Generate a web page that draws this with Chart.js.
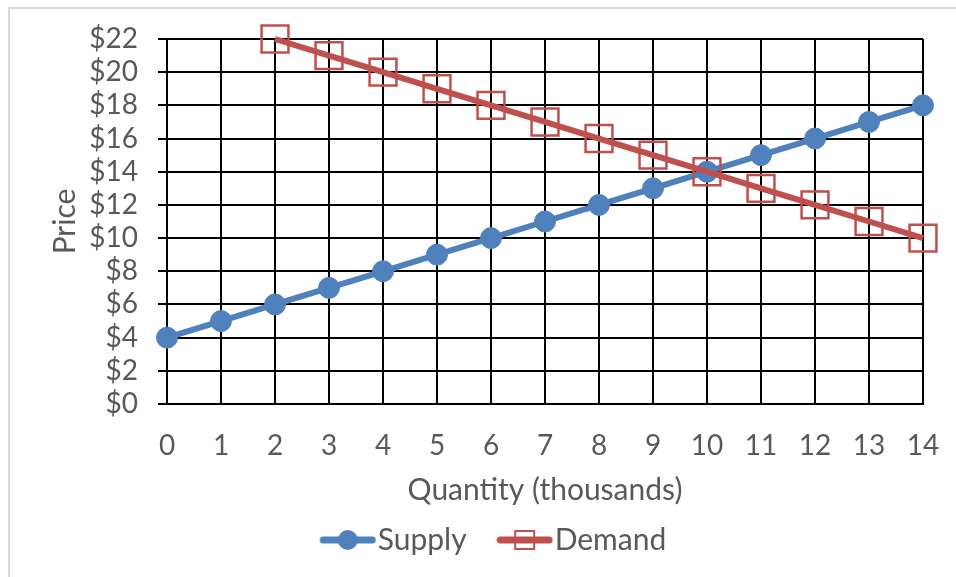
<!DOCTYPE html>
<html>
<head>
<meta charset="utf-8">
<script src="https://cdn.jsdelivr.net/npm/chart.js@4.4.1/dist/chart.umd.min.js"></script>
<style>
    html, body { margin: 0; padding: 0; background: #fff; }
    #wrap { position: relative; width: 956px; height: 577px; overflow: hidden; }
    #frame { position: absolute; left: 8px; top: 7px; width: 1000px; height: 1000px;
             border-left: 2px solid #d9d9d9; border-top: 2px solid #d9d9d9; }
    canvas { position: absolute; left: 0; top: 0; }
</style>
</head>
<body>
<div id="wrap">
    <div id="frame"></div>
    <canvas id="chart" width="956" height="577"></canvas>
</div>
<script>
// quantity in thousands, price in dollars
const quantities = ['0', '1', '2', '3', '4', '5', '6', '7', '8', '9', '10', '11', '12', '13', '14'];
const supply = [4, 5, 6, 7, 8, 9, 10, 11, 12, 13, 14, 15, 16, 17, 18];
const demand = [null, null, 22, 21, 20, 19, 18, 17, 16, 15, 14, 13, 12, 11, 10];
const seriesNames = ['Supply', 'Demand'];

const blue = '#4f81bd';
const red = '#c0504d';
const textColor = '#595959';
const fontFamily = 'Lato, "Open Sans", sans-serif';
const tickFont = { family: fontFamily, size: 28 };
const labelFont = { family: fontFamily, size: 30 };

// legend sample: a short line with the marker in the middle
function legendIcon(color, marker) {
    const c = document.createElement('canvas');
    c.width = 90;
    c.height = 30;
    const g = c.getContext('2d');
    g.strokeStyle = color;
    g.lineWidth = 7;
    g.lineCap = 'round';
    g.beginPath();
    g.moveTo(37, 15);
    g.lineTo(86, 15);
    g.stroke();
    if (marker === 'circle') {
        g.fillStyle = color;
        g.beginPath();
        g.arc(61.5, 15, 10, 0, Math.PI * 2);
        g.fill();
    } else {
        g.lineWidth = 2;
        g.strokeRect(52, 6, 19, 18);
    }
    return c;
}

const icons = [legendIcon(blue, 'circle'), legendIcon(red, 'rect')];

const ctx = document.getElementById('chart');
new Chart(ctx, {
    type: 'line',
    data: {
        labels: quantities,
        datasets: [{
            label: seriesNames[0],
            data: supply,
            borderColor: blue,
            backgroundColor: blue,
            borderWidth: 6,
            pointStyle: 'circle',
            pointRadius: 10.5,
            pointBorderWidth: 1,
            pointBackgroundColor: blue,
            pointBorderColor: blue,
            tension: 0,
            clip: false,
            order: 1
        }, {
            label: seriesNames[1],
            data: demand,
            borderColor: red,
            backgroundColor: 'transparent',
            borderWidth: 6,
            pointStyle: 'rect',
            pointRadius: 19,
            pointBorderWidth: 2.5,
            pointBackgroundColor: 'transparent',
            pointBorderColor: red,
            tension: 0,
            clip: false,
            order: 0
        }]
    },
    options: {
        responsive: false,
        animation: false,
        events: [],
        layout: { padding: { left: 43, right: 33, top: 39, bottom: 12 } },
        plugins: {
            tooltip: { enabled: false },
            legend: {
                position: 'bottom',
                labels: {
                    usePointStyle: true,
                    pointStyleWidth: 63,
                    padding: 10,
                    color: textColor,
                    font: labelFont,
                    generateLabels: (chart) => chart.data.datasets.map((ds, i) => ({
                        text: ds.label,
                        pointStyle: icons[i],
                        fillStyle: ds.borderColor,
                        strokeStyle: ds.borderColor,
                        lineWidth: 0,
                        fontColor: textColor,
                        hidden: false,
                        datasetIndex: i
                    }))
                }
            }
        },
        scales: {
            x: {
                offset: false,
                afterFit: (s) => { s.height = 111; },
                grid: { color: '#000', lineWidth: 2, drawTicks: true, tickLength: 18, tickColor: 'rgba(0,0,0,0)' },
                border: { color: '#000', width: 2 },
                ticks: {
                    color: textColor,
                    font: tickFont,
                    padding: 7,
                    autoSkip: false,
                    maxRotation: 0
                },
                title: {
                    display: true,
                    text: 'Quantity (thousands)',
                    color: textColor,
                    font: labelFont,
                    padding: { top: 0, bottom: 7 }
                }
            },
            y: {
                min: 0,
                max: 22,
                afterFit: (s) => { s.width = 167 - 43; },
                grid: { color: '#000', lineWidth: 2, drawTicks: true, tickLength: 9 },
                border: { color: '#000', width: 2 },
                ticks: {
                    stepSize: 2,
                    color: textColor,
                    font: tickFont,
                    padding: 20,
                    autoSkip: false,
                    callback: (v) => '$' + v
                },
                title: {
                    display: true,
                    text: 'Price',
                    color: textColor,
                    font: labelFont,
                    padding: { top: 4, bottom: 0 }
                }
            }
        }
    }
});
</script>
</body>
</html>
